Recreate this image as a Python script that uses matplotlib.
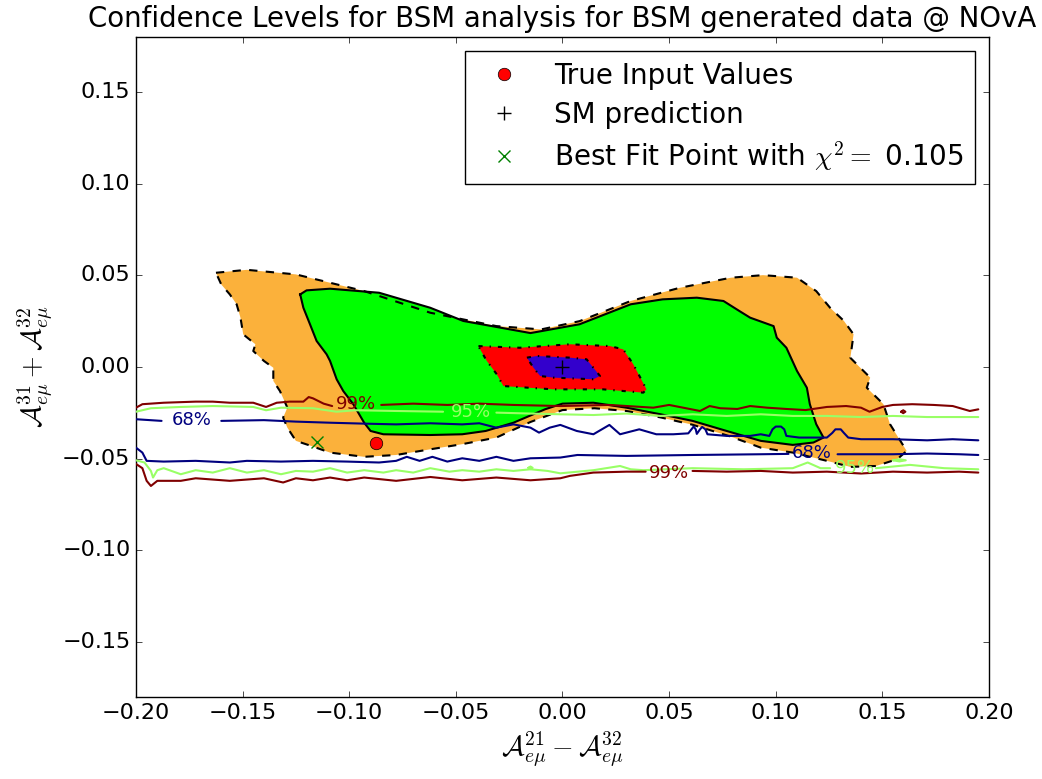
import numpy as np
import matplotlib
matplotlib.use("Agg")
import matplotlib.pyplot as plt

plt.style.use("classic")
plt.rcParams["mathtext.fontset"] = "cm"
plt.rcParams["savefig.facecolor"] = "white"

# points
true_input = (-0.0874, -0.0416)
sm_point = (0.0, 0.0)
best_fit = (-0.115, -0.0407)
chi2_min = 0.105

# filled confidence regions (boundary vertices)
region_99 = [(-0.1625, 0.0514), (-0.148, 0.053), (-0.125, 0.0505), (-0.093, 0.0414),
             (-0.062, 0.0296), (-0.031, 0.0223), (-0.010, 0.0205), (0.008, 0.025),
             (0.032, 0.036), (0.055, 0.0432), (0.079, 0.0487), (0.094, 0.0501),
             (0.110, 0.0487), (0.119, 0.0414), (0.1255, 0.0323), (0.132, 0.0251),
             (0.1365, 0.0178), (0.135, 0.005), (0.1443, -0.0058), (0.1427, -0.0113),
             (0.1505, -0.0203), (0.1536, -0.0312), (0.1614, -0.0458), (0.157, -0.0503),
             (0.147, -0.054), (0.135, -0.0545), (0.124, -0.0512), (0.108, -0.0467),
             (0.093, -0.044), (0.079, -0.038), (0.061, -0.0315), (0.046, -0.0275),
             (0.030, -0.024), (0.015, -0.0225), (0.0, -0.0235), (-0.015, -0.030),
             (-0.031, -0.0385), (-0.047, -0.0421), (-0.062, -0.0449), (-0.078, -0.048),
             (-0.093, -0.049), (-0.109, -0.0467), (-0.118, -0.043), (-0.125, -0.0403),
             (-0.129, -0.0331), (-0.131, -0.0276), (-0.129, -0.0222), (-0.1325, -0.0131),
             (-0.1356, -0.0076), (-0.1356, -0.0004), (-0.140, 0.0033), (-0.145, 0.0087),
             (-0.144, 0.0124), (-0.1497, 0.0178), (-0.151, 0.0269), (-0.1528, 0.0342),
             (-0.156, 0.0396), (-0.160, 0.045)]
region_95 = [(-0.123, 0.0396), (-0.120, 0.0418), (-0.109, 0.0427), (-0.086, 0.0405),
             (-0.062, 0.0323), (-0.0465, 0.0251), (-0.015, 0.0185), (0.008, 0.0233),
             (0.032, 0.0342), (0.047, 0.0369), (0.063, 0.0378), (0.0755, 0.036),
             (0.083, 0.0305), (0.088, 0.0269), (0.099, 0.0223), (0.1005, 0.016),
             (0.105, 0.0105), (0.110, -0.0022), (0.1146, -0.0113), (0.116, -0.0203),
             (0.119, -0.0312), (0.1224, -0.0385), (0.1177, -0.0412), (0.108, -0.0425),
             (0.093, -0.0403), (0.077, -0.0349), (0.061, -0.0294), (0.046, -0.0258),
             (0.030, -0.0222), (0.0145, -0.0195), (0.0, -0.020), (-0.008, -0.023),
             (-0.023, -0.0304), (-0.036, -0.0349), (-0.047, -0.0367), (-0.062, -0.0371),
             (-0.084, -0.0367), (-0.090, -0.0349), (-0.093, -0.0304), (-0.0981, -0.0203),
             (-0.1028, -0.0131), (-0.1059, -0.0067), (-0.109, 0.0033), (-0.1106, 0.0069),
             (-0.1153, 0.0142), (-0.1184, 0.0233), (-0.1215, 0.0323)]
region_68 = [(-0.0394, 0.0114), (-0.020, 0.0105), (0.0035, 0.0124), (0.0223, 0.0114),
             (0.0285, 0.0096), (0.0332, 0.0015), (0.0394, -0.0122), (0.0379, -0.014),
             (0.0191, -0.0122), (-0.0043, -0.0122), (-0.0277, -0.0104), (-0.0308, -0.004),
             (-0.0355, 0.0033), (-0.0386, 0.0096)]
region_1s = [(-0.0167, 0.0051), (-0.012, 0.006), (0.0035, 0.0051), (0.0113, 0.0042),
             (0.0176, -0.0049), (0.0145, -0.0067), (-0.0043, -0.0058), (-0.0105, -0.0049),
             (-0.0136, -0.0004)]
region_colors = ["#FBB13B", "#00FF00", "#FF0000", "#3300CC"]
region_styles = ["dashed", "solid", "dashdot", "dashdot"]

# CL contour lines of the second analysis (None = gap for a label)
line99_upper = [(-0.200, -0.0222), (-0.197, -0.0203), (-0.187, -0.0195), (-0.172, -0.0189),
                (-0.164, -0.0189), (-0.156, -0.0195), (-0.145, -0.0195), (-0.139, -0.0218),
                (-0.134, -0.0195), (-0.128, -0.0189), (-0.1215, -0.0189), (-0.119, -0.0164),
                (-0.117, -0.0171), (-0.112, -0.020), (-0.108, -0.0213), None,
                (-0.085, -0.0207), (-0.070, -0.020), (-0.054, -0.0207), (-0.039, -0.020),
                (-0.023, -0.0207), (-0.001, -0.0213), (0.022, -0.0207), (0.0426, -0.0222),
                (0.050, -0.0207), (0.0645, -0.024), (0.069, -0.0213), (0.074, -0.0225),
                (0.082, -0.0229), (0.088, -0.0213), (0.096, -0.0222), (0.105, -0.0229),
                (0.114, -0.0235), (0.124, -0.0218), (0.133, -0.0213), (0.140, -0.0222),
                (0.144, -0.0244), (0.150, -0.0218), (0.155, -0.0207), (0.164, -0.0203),
                (0.174, -0.0207), (0.183, -0.0213), (0.191, -0.024), (0.195, -0.0231)]
line95_upper = [(-0.200, -0.0244), (-0.193, -0.0225), (-0.179, -0.0218), (-0.164, -0.0213),
                (-0.145, -0.0218), (-0.139, -0.0236), (-0.132, -0.0222), (-0.117, -0.0225),
                (-0.106, -0.0244), (-0.097, -0.0236), (-0.078, -0.024), (-0.056, -0.0244),
                None, (-0.031, -0.0249), (-0.015, -0.0254), (-0.001, -0.0258),
                (0.0145, -0.0262), (0.030, -0.0254), (0.046, -0.0267), (0.061, -0.0258),
                (0.077, -0.0267), (0.093, -0.0258), (0.108, -0.0267), (0.124, -0.0267),
                (0.140, -0.0273), (0.155, -0.0267), (0.171, -0.0273), (0.195, -0.0273)]
line68_upper = [(-0.200, -0.0285), (-0.188, -0.0294), None, (-0.160, -0.0294),
                (-0.140, -0.029), (-0.125, -0.0298), (-0.109, -0.0304), (-0.093, -0.0309),
                (-0.078, -0.0313), (-0.062, -0.0307), (-0.047, -0.0313), (-0.039, -0.0307),
                (-0.031, -0.0331), (-0.023, -0.0313), (-0.015, -0.0331), (-0.011, -0.0358),
                (-0.006, -0.0331), (-0.001, -0.0316), (0.0067, -0.0349), (0.0145, -0.0367),
                (0.022, -0.0316), (0.027, -0.0367), (0.036, -0.034), (0.044, -0.0367),
                (0.052, -0.0367), (0.059, -0.0362), (0.0605, -0.034), (0.0615, -0.0325),
                (0.0625, -0.034), (0.063, -0.0365), (0.0645, -0.034), (0.0655, -0.0327),
                (0.067, -0.034), (0.068, -0.0367), (0.077, -0.0376), (0.088, -0.0376),
                (0.093, -0.0367), (0.097, -0.0376), (0.0985, -0.034), (0.100, -0.0325),
                (0.1025, -0.0325), (0.104, -0.034), (0.105, -0.0376), (0.111, -0.0385),
                (0.124, -0.0385), (0.1265, -0.036), (0.128, -0.034), (0.1305, -0.034),
                (0.132, -0.036), (0.134, -0.0385), (0.140, -0.0394), (0.155, -0.0394),
                (0.171, -0.040), (0.183, -0.0394), (0.195, -0.040)]
line68_lower = [(-0.200, -0.044), (-0.197, -0.0467), (-0.195, -0.0512), (-0.187, -0.0516),
                (-0.172, -0.0512), (-0.156, -0.0521), (-0.148, -0.0512), (-0.132, -0.0516),
                (-0.117, -0.0512), (-0.101, -0.0516), (-0.086, -0.0521), (-0.078, -0.0512),
                (-0.073, -0.049), (-0.067, -0.0512), (-0.061, -0.049), (-0.054, -0.0516),
                (-0.047, -0.0498), (-0.039, -0.0512), (-0.031, -0.049), (-0.023, -0.0512),
                (-0.015, -0.0498), (-0.001, -0.0494), (0.007, -0.048), (0.030, -0.0485),
                (0.061, -0.048), (0.093, -0.0476), (0.106, -0.0474), None,
                (0.129, -0.0476), (0.155, -0.0476), (0.171, -0.0472), (0.186, -0.0476),
                (0.195, -0.048)]
line95_lower = [(-0.200, -0.0509), (-0.196, -0.0521), (-0.193, -0.0567), (-0.192, -0.0603),
                (-0.190, -0.0563), (-0.187, -0.0552), (-0.179, -0.0585), (-0.172, -0.0563),
                (-0.164, -0.0576), (-0.156, -0.0552), (-0.148, -0.0576), (-0.140, -0.0563),
                (-0.132, -0.0585), (-0.125, -0.0567), (-0.117, -0.0571), (-0.109, -0.0552),
                (-0.101, -0.0576), (-0.093, -0.0563), (-0.084, -0.0576), (-0.078, -0.0563),
                (-0.070, -0.0576), (-0.062, -0.0552), (-0.053, -0.0571), (-0.047, -0.0563),
                (-0.039, -0.0571), (-0.031, -0.0558), (-0.023, -0.0567), (-0.015, -0.0558),
                (-0.007, -0.0567), (-0.001, -0.058), (0.0145, -0.0563), (0.027, -0.054),
                (0.032, -0.0558), (0.038, -0.0563), (0.061, -0.0552), (0.085, -0.0558),
                (0.108, -0.0552), (0.115, -0.0521), (0.121, -0.0552), (0.1255, -0.0552),
                None, (0.147, -0.0552), (0.163, -0.0534), (0.179, -0.0552), (0.195, -0.0558)]
line99_lower = [(-0.200, -0.0529), (-0.197, -0.0552), (-0.195, -0.0621), (-0.193, -0.0649),
                (-0.190, -0.0621), (-0.179, -0.0621), (-0.172, -0.0607), (-0.156, -0.0621),
                (-0.140, -0.0607), (-0.131, -0.063), (-0.125, -0.0607), (-0.117, -0.0618),
                (-0.109, -0.0603), (-0.101, -0.0618), (-0.093, -0.0603), (-0.078, -0.0621),
                (-0.062, -0.060), (-0.047, -0.0618), (-0.031, -0.0603), (-0.015, -0.0618),
                (-0.001, -0.0607), (0.0035, -0.0594), (0.0145, -0.0576), (0.030, -0.0571),
                (0.039, -0.0571), None, (0.061, -0.0567), (0.077, -0.0571), (0.093, -0.0567),
                (0.108, -0.0576), (0.124, -0.0571), (0.140, -0.0581), (0.155, -0.0571),
                (0.171, -0.0576), (0.186, -0.0571), (0.195, -0.0576)]
loop99 = [(0.1588, -0.0244), (0.1598, -0.0236), (0.1608, -0.0244), (0.1598, -0.0252), (0.1588, -0.0244)]
loop95a = [(0.155, -0.0509), (0.158, -0.0503), (0.161, -0.0509), (0.158, -0.0515), (0.155, -0.0509)]
loop95b = [(-0.016, -0.055), (-0.015, -0.0543), (-0.014, -0.055), (-0.015, -0.0557), (-0.016, -0.055)]

line_colors = {"68%": "#00007F", "95%": "#99FF66", "99%": "#7F0000"}
contour_lines = [("99%", line99_upper), ("95%", line95_upper), ("68%", line68_upper),
                 ("68%", line68_lower), ("95%", line95_lower), ("99%", line99_lower),
                 ("99%", loop99), ("95%", loop95a), ("95%", loop95b)]
label_pos = [("99%", -0.097, -0.020), ("95%", -0.043, -0.0244), ("68%", -0.174, -0.029),
             ("68%", 0.117, -0.047), ("99%", 0.050, -0.0576), ("95%", 0.137, -0.0552)]


def xy(pts):
    arr = np.array([(np.nan, np.nan) if p is None else p for p in pts], dtype=float)
    return arr[:, 0], arr[:, 1]


fig = plt.figure(figsize=(10.42, 7.79), dpi=100)
fig.patch.set_facecolor("white")
ax = fig.add_axes([0.1305, 0.1053, 0.8186, 0.8472])

regions = [region_99, region_95, region_68, region_1s]
for reg, col in zip(regions, region_colors):
    x, y = xy(reg)
    ax.fill(x, y, color=col, lw=0, zorder=1)
for reg, ls in zip(regions, region_styles):
    x, y = xy(reg + reg[:1])
    ax.plot(x, y, color="black", lw=1.5, ls=ls, zorder=2)

for lvl, pts in contour_lines:
    x, y = xy(pts)
    ax.plot(x, y, color=line_colors[lvl], lw=1.5, zorder=3,
            solid_joinstyle="round", solid_capstyle="round")
for lvl, lx, ly in label_pos:
    ax.text(lx, ly, lvl, color=line_colors[lvl], fontsize=13,
            ha="center", va="center", zorder=4)

ax.plot(*true_input, "o", color="red", mec="black", ms=9, label="True Input Values", zorder=5)
ax.plot(*sm_point, "+", color="black", ms=10, mew=1, label="SM prediction", zorder=5)
ax.plot(*best_fit, "x", color="green", ms=9, mew=1, zorder=5,
        label=r"Best Fit Point with $\chi^2 = $ %.3f" % chi2_min)

ax.set_xlim(-0.2, 0.2)
ax.set_ylim(-0.18, 0.18)
ax.set_xticks(np.arange(-0.2, 0.201, 0.05))
ax.set_yticks(np.arange(-0.15, 0.151, 0.05))
ax.tick_params(labelsize=16)
ax.set_xlabel(r"$\mathcal{A}^{21}_{e\mu} - \mathcal{A}^{32}_{e\mu}$", fontsize=20)
ax.set_ylabel(r"$\mathcal{A}^{31}_{e\mu} + \mathcal{A}^{32}_{e\mu}$", fontsize=20)
ax.set_title("Confidence Levels for BSM analysis for BSM generated data @ NOvA",
             fontsize=19.9, pad=7.5)
ax.legend(loc="upper right", numpoints=1, fontsize=20, labelspacing=0.38)

fig.savefig("out.png", dpi=100)
